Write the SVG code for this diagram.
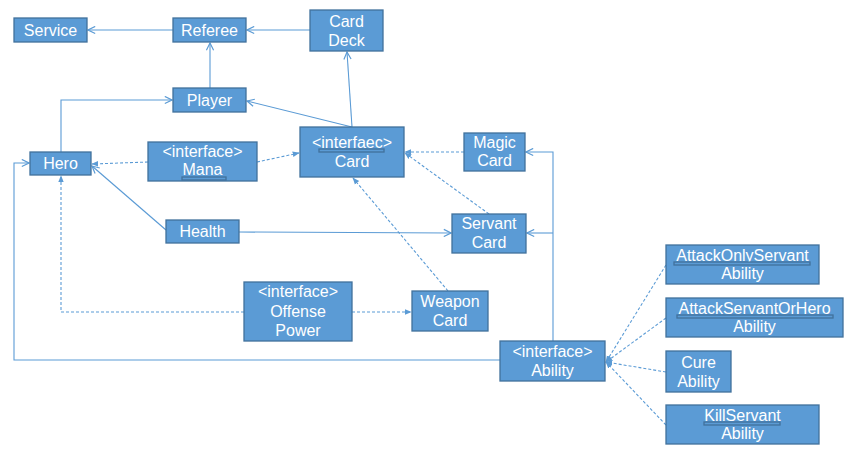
<svg xmlns="http://www.w3.org/2000/svg" width="850" height="458" viewBox="0 0 850 458">
<style>
.box rect{fill:#5B9BD5;stroke:#41719C;stroke-width:1.3}
.box text{fill:#fff;font-family:"Liberation Sans","Noto Sans",sans-serif;font-size:16px;text-anchor:middle}
.c path{fill:none;stroke:#5B9BD5;stroke-width:1.1}
.c .d{stroke-dasharray:3 2}
.sq{fill:url(#sq)}
</style>
<defs>
<marker id="open" viewBox="0 0 10 10" refX="9" refY="5" markerWidth="9" markerHeight="9" orient="auto" markerUnits="userSpaceOnUse"><path d="M1,1 L9,5 L1,9" fill="none" stroke="#5B9BD5" stroke-width="1.3"/></marker>
<marker id="fill" viewBox="0 0 10 10" refX="9" refY="5" markerWidth="7" markerHeight="7" orient="auto" markerUnits="userSpaceOnUse"><path d="M0,1 L10,5 L0,9 z" fill="#5B9BD5"/></marker>
<pattern id="sq" width="4" height="3" patternUnits="userSpaceOnUse"><path d="M0,2.5 L2,0.5 L4,2.5" fill="none" stroke="#E03030" stroke-width="0.8"/></pattern>
</defs>
<g class="c" id="connectors">
<path d="M173,30 L88,30" marker-end="url(#open)"/>
<path d="M310,30 L247,30" marker-end="url(#open)"/>
<path d="M210,88 L210,43" marker-end="url(#open)"/>
<path d="M61,152 L61,100 L172,100" marker-end="url(#open)"/>
<path d="M352,127 L247,101" marker-end="url(#open)"/>
<path d="M352,127 L347,52" marker-end="url(#open)"/>
<path class="d" d="M148,162 L92,164" marker-end="url(#fill)"/>
<path class="d" d="M257,162 L299,153" marker-end="url(#fill)"/>
<path d="M166,230 L92,166" marker-end="url(#open)"/>
<path d="M239,232 L451,233" marker-end="url(#open)"/>
<path class="d" d="M464,152 L405,152" marker-end="url(#fill)"/>
<path class="d" d="M489,214 L405,153" marker-end="url(#fill)"/>
<path class="d" d="M448,291 L353,178" marker-end="url(#fill)"/>
<path class="d" d="M352,312 L411,312" marker-end="url(#fill)"/>
<path class="d" d="M244,312 L61,312 L61,176" marker-end="url(#fill)"/>
<path d="M500,360 L14,360 L14,163 L29,163" marker-end="url(#open)"/>
<path d="M553,341 L553,152 L526,152" marker-end="url(#open)"/>
<path d="M553,233 L527,233" marker-end="url(#open)"/>
<path class="d" d="M666,265 L606,362" marker-end="url(#fill)"/>
<path class="d" d="M666,318 L606,362" marker-end="url(#fill)"/>
<path class="d" d="M666,372 L606,362" marker-end="url(#fill)"/>
<path class="d" d="M666,425 L606,362" marker-end="url(#fill)"/>
</g>
<g class="box" id="service"><rect x="14" y="18" width="73" height="24"/><text x="50.5" y="35.5">Service</text></g>
<g class="box" id="referee"><rect x="173" y="18" width="73" height="24"/><text x="209.5" y="35.5">Referee</text></g>
<g class="box" id="carddeck"><rect x="310" y="10" width="73" height="41"/><text x="346.5" y="27">Card</text><text x="346.5" y="46">Deck</text></g>
<g class="box" id="player"><rect x="173" y="88" width="73" height="24"/><text x="209.5" y="105.5">Player</text></g>
<g class="box" id="hero"><rect x="30" y="152" width="61" height="23"/><text x="60.5" y="169">Hero</text></g>
<g class="box" id="mana"><rect x="148" y="142" width="109" height="39"/><text x="202.5" y="157">&lt;interface&gt;</text><text x="202.5" y="175">Mana</text><rect class="sq" x="182" y="177" width="44" height="3"/></g>
<g class="box" id="card"><rect x="300" y="127" width="104" height="50"/><text x="352" y="148">&lt;interfaec&gt;</text><text x="352" y="167">Card</text><rect class="sq" x="319" y="149" width="65" height="3"/></g>
<g class="box" id="magiccard"><rect x="464" y="133" width="61" height="38"/><text x="494.5" y="148">Magic</text><text x="494.5" y="166">Card</text></g>
<g class="box" id="health"><rect x="166" y="220" width="73" height="23"/><text x="202.5" y="237">Health</text></g>
<g class="box" id="servantcard"><rect x="452" y="214" width="74" height="39"/><text x="489" y="229">Servant</text><text x="489" y="248">Card</text></g>
<g class="box" id="offensepower"><rect x="244" y="282" width="108" height="59"/><text x="298" y="297">&lt;interface&gt;</text><text x="298" y="317">Offense</text><text x="298" y="336">Power</text></g>
<g class="box" id="weaponcard"><rect x="412" y="291" width="76" height="40"/><text x="450" y="307">Weapon</text><text x="450" y="326">Card</text></g>
<g class="box" id="ability"><rect x="500" y="341" width="105" height="40"/><text x="552.5" y="357">&lt;interface&gt;</text><text x="552.5" y="376">Ability</text></g>
<g class="box" id="attackonlyservant"><rect x="666" y="245" width="153" height="39"/><text x="742.5" y="261">AttackOnlyServant</text><text x="742.5" y="279">Ability</text><rect class="sq" x="674" y="262" width="136" height="3"/></g>
<g class="box" id="attackservantorhero"><rect x="666" y="298" width="177" height="39"/><text x="754.5" y="314">AttackServantOrHero</text><text x="754.5" y="332">Ability</text><rect class="sq" x="677" y="315" width="156" height="3"/></g>
<g class="box" id="cureability"><rect x="666" y="351" width="65" height="41"/><text x="698.5" y="368">Cure</text><text x="698.5" y="387">Ability</text></g>
<g class="box" id="killservant"><rect x="666" y="405" width="153" height="39"/><text x="742.5" y="421">KillServant</text><text x="742.5" y="439">Ability</text><rect class="sq" x="704" y="422" width="76" height="3"/></g>
</svg>
